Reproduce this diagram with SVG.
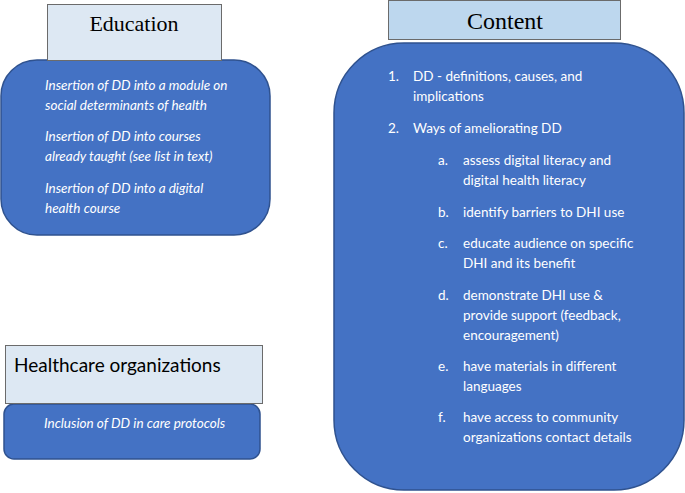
<svg xmlns="http://www.w3.org/2000/svg" width="685" height="493" viewBox="0 0 685 493">
<style>
.hdr{stroke:#6b6b6b;stroke-width:1}
.box{fill:#4472c4;stroke:#2f528f;stroke-width:1.5}
.t{font-family:Lato,"Open Sans",sans-serif;font-size:13.5px;fill:#fff}
.i{font-style:italic}
.h{font-family:"Liberation Serif",serif;fill:#000}
</style>
<rect width="685" height="493" fill="#fff"/>
<g id="education">
<rect class="box" x="1" y="60" width="269" height="175" rx="36"/>
<rect class="hdr" x="47.5" y="4.5" width="174" height="56" fill="#dde8f3"/>
<text class="h" x="134" y="31" font-size="22" text-anchor="middle">Education</text>
<g class="t i">
<text x="45" y="90">Insertion of DD into a module on</text>
<text x="45" y="110">social determinants of health</text>
<text x="45" y="141">Insertion of DD into courses</text>
<text x="45" y="161">already taught (see list in text)</text>
<text x="45" y="193">Insertion of DD into a digital</text>
<text x="45" y="213">health course</text>
</g>
</g>
<g id="content">
<rect class="box" x="334" y="43" width="350" height="447" rx="70"/>
<rect class="hdr" x="388.5" y="0.5" width="232" height="39" fill="#bdd7ee"/>
<text class="h" x="505" y="29" font-size="24" text-anchor="middle">Content</text>
<g class="t">
<text x="388" y="81">1.</text><text x="413" y="81">DD - definitions, causes, and</text>
<text x="413" y="101">implications</text>
<text x="388" y="133">2.</text><text x="413" y="133">Ways of ameliorating DD</text>
<text x="438" y="165">a.</text><text x="463" y="165">assess digital literacy and</text>
<text x="463" y="185">digital health literacy</text>
<text x="438" y="217">b.</text><text x="463" y="217">identify barriers to DHI use</text>
<text x="438" y="248">c.</text><text x="463" y="248">educate audience on specific</text>
<text x="463" y="268">DHI and its benefit</text>
<text x="438" y="300">d.</text><text x="463" y="300">demonstrate DHI use &amp;</text>
<text x="463" y="320">provide support (feedback,</text>
<text x="463" y="340">encouragement)</text>
<text x="438" y="371">e.</text><text x="463" y="371">have materials in different</text>
<text x="463" y="391">languages</text>
<text x="438" y="422">f.</text><text x="463" y="422">have access to community</text>
<text x="463" y="442">organizations contact details</text>
</g>
</g>
<g id="healthcare">
<rect class="box" x="4" y="404" width="256" height="55" rx="10"/>
<rect class="hdr" x="5.5" y="345.5" width="257" height="58" fill="#dde8f3"/>
<text x="14" y="372" font-family="Lato,'Open Sans',sans-serif" font-size="19" fill="#000">Healthcare organizations</text>
<text class="t i" x="44" y="428">Inclusion of DD in care protocols</text>
</g>
<g id="connectors"/>
</svg>
